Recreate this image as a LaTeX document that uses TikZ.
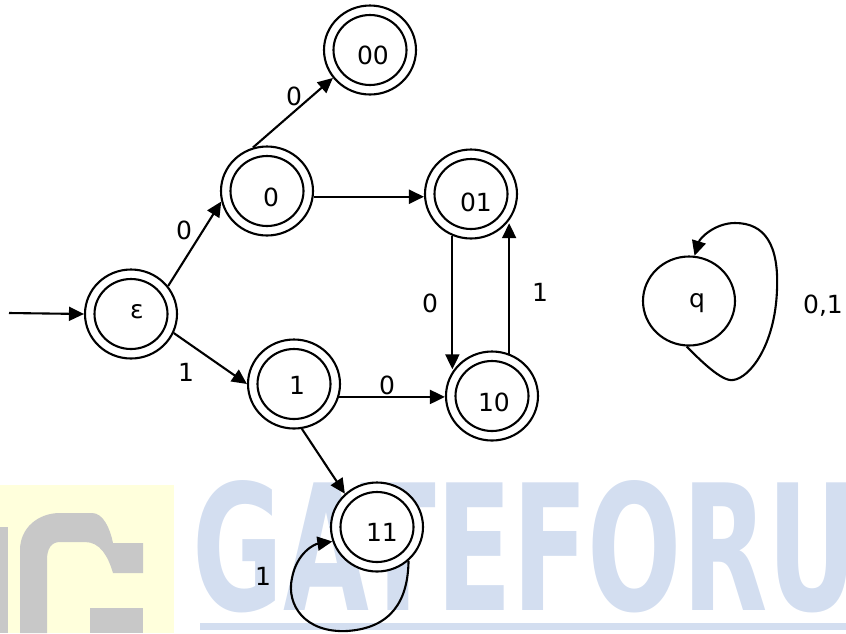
\documentclass[tikz,border=0pt]{standalone}
\usepackage{fontspec}
\setmainfont{DejaVu Sans}
\usetikzlibrary{arrows.meta,shapes.geometric,calc}
\definecolor{wmblue}{HTML}{D3DEF0}
\definecolor{wmgrey}{HTML}{C8C8C8}
\definecolor{wmyellow}{HTML}{FFFFDC}
\tikzset{
  acc/.style={ellipse, draw, fill=white, line width=2.1pt, minimum width=92pt, minimum height=89pt, inner sep=0pt},
  ring/.style={draw, line width=2.1pt},
  tr/.style={line width=2.1pt, -{Triangle[length=15pt,width=14pt]}},
  lbl/.style={font=\fontsize{25}{29}\selectfont, inner sep=0pt},
}
\begin{document}
\begin{tikzpicture}[x=1pt,y=-1pt]
\useasboundingbox (0,0) rectangle (846,633);
\clip (0,0) rectangle (846,633);
% watermark
\fill[wmyellow] (0,485) rectangle (174,633);
\fill[wmgrey] (0,527) rectangle (8,633);
\fill[wmgrey] (20,633) -- (20,550) .. controls (20,528) and (38,513) .. (60,513) -- (92,513) .. controls (103,513) and (110,528) .. (113,543) -- (143,543) -- (143,573) -- (113,573) .. controls (108,556) and (100,542) .. (85,542) -- (60,542) .. controls (51,542) and (47,549) .. (47,560) -- (47,633) -- cycle;
\fill[wmgrey] (90,608) rectangle (143,633);
\node[anchor=south west, inner sep=0pt, text=wmblue] (wm) at (192,613) {\resizebox{665pt}{130pt}{\bfseries GATEFORU}};
\fill[wmblue] (200,623) rectangle (846,630);
% states
\node[acc, label={[lbl, shift={(6,-2)}]center:ε}] (e) at (131,314) {};
\node[acc, label={[lbl, shift={(4,6)}]center:0}] (z) at (267,191) {};
\node[acc, label={[lbl, shift={(3,5)}]center:00}] (zz) at (370,50) {};
\node[acc, label={[lbl, shift={(5,8)}]center:01}] (o1) at (471,194) {};
\node[acc, label={[lbl, shift={(3,1)}]center:1}] (one) at (294,384) {};
\node[acc, label={[lbl, shift={(2,6)}]center:10}] (t) at (492,396) {};
\node[acc, label={[lbl, shift={(5,5)}]center:11}] (ee) at (377,527) {};
\node[acc, label={[lbl, shift={(8,2)}]center:q}] (q) at (689,301) {};
\foreach \n in {e,z,zz,o1,one,t,ee}
  \draw[ring] (\n.center) ellipse [x radius=36.5, y radius=35];
% transitions
\coordinate (s) at (9,313);
\draw[tr] (s) -- (e.west);
\draw[tr] (e.37) -- (z.193);
\draw[tr] (e.-24) -- (one.180);
\draw[tr] (z.108) -- (zz.217);
\draw[tr] (z.-7) -- (z.-7 -| o1.west);
\draw[tr] (o1.246) -- (o1.246 |- t.145);
\draw[tr] (t.68) -- (t.68 |- o1.-39);
\draw[tr] (one.-16) -- (one.-16 -| t.west);
\draw[tr] (one.-80) -- (ee.134);
\draw[tr] (ee.-47) .. controls (408,600) and (392,628) .. (347,631) .. controls (305,633) and (286,605) .. (292,578) .. controls (297,552) and (315,544) .. (ee.198);
\draw[tr] (q.267) .. controls (700,360) and (722,382) .. (733,380) .. controls (750,378) and (775,345) .. (777,290) .. controls (779,245) and (765,223) .. (735,223) .. controls (715,223) and (700,238) .. (q.83);
% labels
\node[lbl] (l1) at (184,230) {0};
\node[lbl] (l2) at (186,372) {1};
\node[lbl] (l3) at (294,96) {0};
\node[lbl] (l4) at (430,303) {0};
\node[lbl] (l5) at (540,292) {1};
\node[lbl] (l6) at (387,385) {0};
\node[lbl] (l7) at (263,576) {1};
\node[lbl] (l8) at (823,306) {0,1};
\end{tikzpicture}
\end{document}
